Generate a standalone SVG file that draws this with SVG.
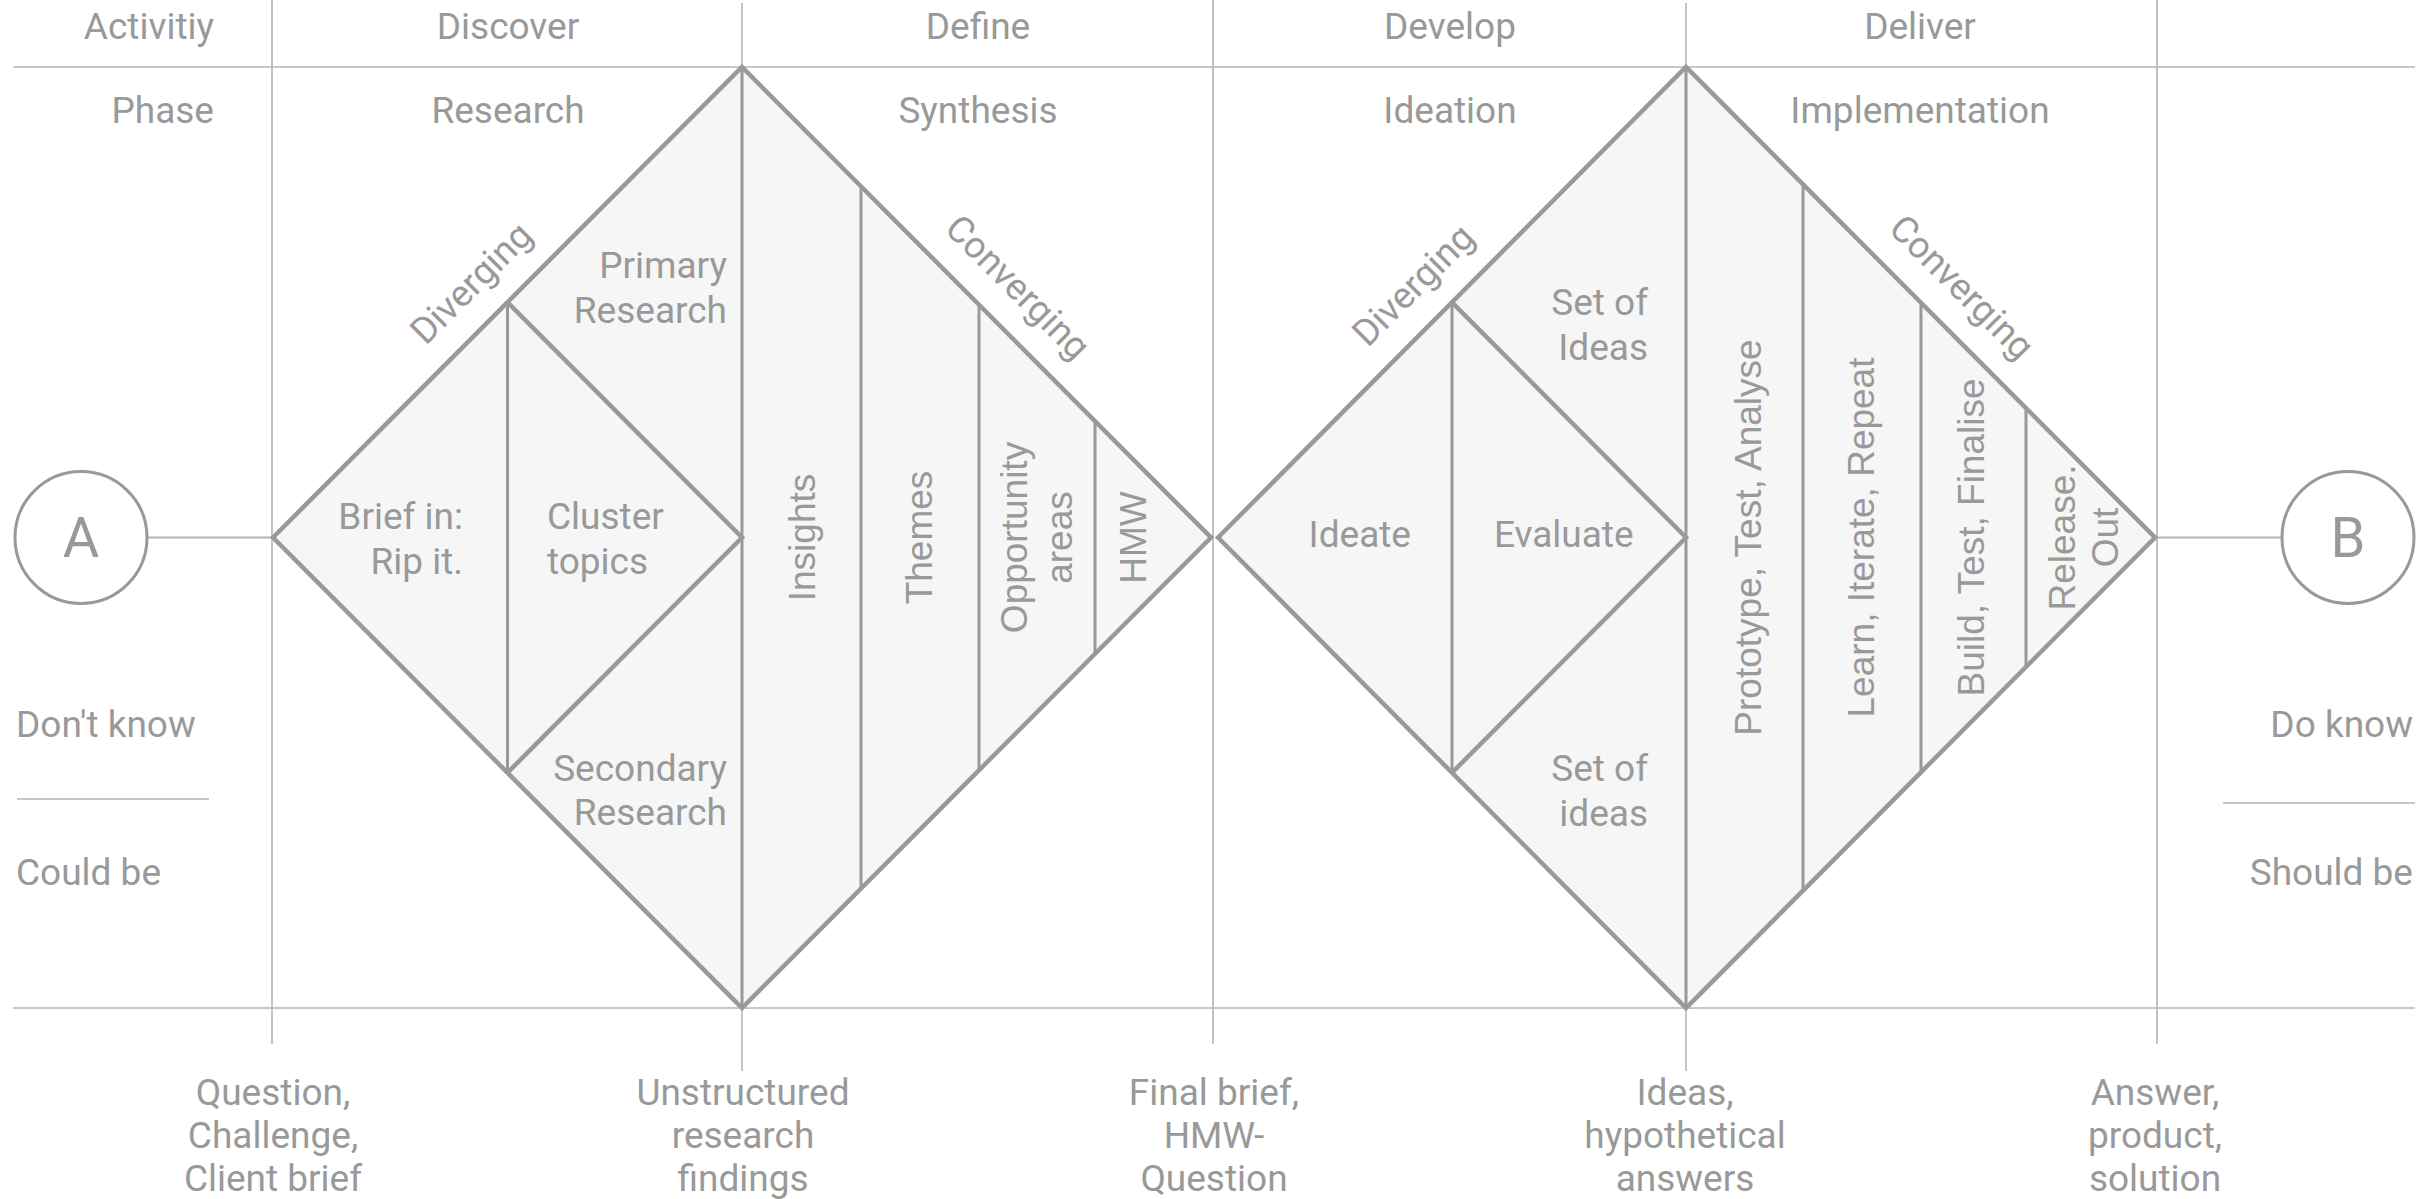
<svg xmlns="http://www.w3.org/2000/svg" width="2435" height="1199" viewBox="0 0 2435 1199">
<style>
.grid{stroke:#b4b4b4;stroke-width:1.6;fill:none}
.hline{stroke:#c8c8c8;stroke-width:2.2;fill:none}
.dia{fill:#f6f6f6;stroke:none}
.edge{fill:none;stroke:#999;stroke-width:4.5;stroke-linejoin:miter}
.div{stroke:#999;stroke-width:3;fill:none}
.conn{stroke:#b4b4b4;stroke-width:1.8;fill:none}
.circ{fill:#fff;stroke:#999;stroke-width:3}
.t{font-family:Roboto,"Liberation Sans",sans-serif;font-size:37px;fill:#999}
.c{text-anchor:middle}
.e{text-anchor:end}
.v{font-family:"Liberation Sans",Arial,sans-serif;font-size:37px;fill:#999;text-anchor:middle}
.big{font-family:Roboto,"Liberation Sans",sans-serif;font-size:56px;fill:#999;text-anchor:middle}
</style>
<rect width="2435" height="1199" fill="#fff"/>
<g id="grid">
<line class="hline" x1="13" y1="67" x2="2415" y2="67"/>
<line class="hline" x1="13" y1="1008" x2="2415" y2="1008"/>
<line class="grid" x1="272" y1="0" x2="272" y2="1044"/>
<line class="grid" x1="742" y1="3" x2="742" y2="1071"/>
<line class="grid" x1="1213" y1="0" x2="1213" y2="1044"/>
<line class="grid" x1="1686" y1="3" x2="1686" y2="1071"/>
<line class="grid" x1="2157" y1="0" x2="2157" y2="1044"/>
<line class="grid" x1="17" y1="799" x2="209" y2="799"/>
<line class="grid" x1="2223" y1="803" x2="2415" y2="803"/>
</g>
<g id="header">
<text class="t e" x="214" y="39">Activitiy</text>
<text class="t c" x="508" y="39">Discover</text>
<text class="t c" x="978" y="39">Define</text>
<text class="t c" x="1450" y="39">Develop</text>
<text class="t c" x="1920" y="39">Deliver</text>
<text class="t e" x="214" y="123">Phase</text>
<text class="t c" x="508" y="123">Research</text>
<text class="t c" x="978" y="123">Synthesis</text>
<text class="t c" x="1450" y="123">Ideation</text>
<text class="t c" x="1920" y="123">Implementation</text>
</g>
<g id="side-labels">
<text class="t" x="16" y="737">Don't know</text>
<text class="t" x="16" y="885">Could be</text>
<text class="t e" x="2413" y="737">Do know</text>
<text class="t e" x="2413" y="885">Should be</text>
</g>
<g id="connectors">
<line class="conn" x1="148" y1="537.5" x2="273" y2="537.5"/>
<line class="conn" x1="2155" y1="537.5" x2="2282" y2="537.5"/>
</g>
<g id="node-a">
<circle class="circ" cx="81" cy="537.5" r="66"/>
<text class="big" x="81" y="557">A</text>
</g>
<g id="node-b">
<circle class="circ" cx="2348" cy="537.5" r="66"/>
<text class="big" x="2348" y="557">B</text>
</g>
<g id="diamond-1">
<path class="dia" d="M273,537.5 L742,67 L1211,537.5 L742,1008 Z"/>
<path class="div" d="M507.5,302.3 V772.7 M742,67 V1008 M861,186.4 V888.6 M979,304.8 V770.2 M1095,421.1 V653.9"/>
<path class="edge" d="M273,537.5 L742,67 L1211,537.5 L742,1008 Z M507.5,302.3 L742,537.5 L507.5,772.7"/>
<text class="t" transform="translate(480,292) rotate(-45)" text-anchor="middle">Diverging</text>
<text class="t" transform="translate(1009,296) rotate(45)" text-anchor="middle">Converging</text>
<text class="t e" x="727" y="278">Primary</text>
<text class="t e" x="727" y="323">Research</text>
<text class="t e" x="463" y="529">Brief in:</text>
<text class="t e" x="463" y="574">Rip it.</text>
<text class="t" x="547" y="529">Cluster</text>
<text class="t" x="547" y="574">topics</text>
<text class="t e" x="727" y="781">Secondary</text>
<text class="t e" x="727" y="825">Research</text>
<text class="v" transform="translate(815,537.5) rotate(-90)">Insights</text>
<text class="v" transform="translate(932,537.5) rotate(-90)">Themes</text>
<text class="v" transform="translate(1027,537.5) rotate(-90)">Opportunity</text>
<text class="v" transform="translate(1072,537.5) rotate(-90)">areas</text>
<text class="v" transform="translate(1146,537.5) rotate(-90)">HMW</text>
</g>
<g id="diamond-2">
<path class="dia" d="M1218,537.5 L1686,67 L2155,537.5 L1686,1008 Z"/>
<path class="div" d="M1452,302.3 V772.7 M1686,67 V1008 M1803,184.4 V890.6 M1921,302.8 V772.2 M2026,408.1 V666.9"/>
<path class="edge" d="M1218,537.5 L1686,67 L2155,537.5 L1686,1008 Z M1452,302.3 L1686,537.5 L1452,772.7"/>
<text class="t" transform="translate(1422,294) rotate(-45)" text-anchor="middle">Diverging</text>
<text class="t" transform="translate(1953,296) rotate(45)" text-anchor="middle">Converging</text>
<text class="t e" x="1648" y="315">Set of</text>
<text class="t e" x="1648" y="360">Ideas</text>
<text class="t e" x="1411" y="547">Ideate</text>
<text class="t" x="1494" y="547">Evaluate</text>
<text class="t e" x="1648" y="781">Set of</text>
<text class="t e" x="1648" y="826">ideas</text>
<text class="v" transform="translate(1761,537.5) rotate(-90)">Prototype, Test, Analyse</text>
<text class="v" transform="translate(1874,537.5) rotate(-90)">Learn, Iterate, Repeat</text>
<text class="v" transform="translate(1984,537.5) rotate(-90)">Build, Test, Finalise</text>
<text class="v" transform="translate(2075,537.5) rotate(-90)">Release.</text>
<text class="v" transform="translate(2118,537.5) rotate(-90)">Out</text>
</g>
<g id="outputs">
<text class="t c" x="273" y="1105">Question,</text>
<text class="t c" x="273" y="1148">Challenge,</text>
<text class="t c" x="273" y="1191">Client brief</text>
<text class="t c" x="743" y="1105">Unstructured</text>
<text class="t c" x="743" y="1148">research</text>
<text class="t c" x="743" y="1191">findings</text>
<text class="t c" x="1214" y="1105">Final brief,</text>
<text class="t c" x="1214" y="1148">HMW-</text>
<text class="t c" x="1214" y="1191">Question</text>
<text class="t c" x="1685" y="1105">Ideas,</text>
<text class="t c" x="1685" y="1148">hypothetical</text>
<text class="t c" x="1685" y="1191">answers</text>
<text class="t c" x="2155" y="1105">Answer,</text>
<text class="t c" x="2155" y="1148">product,</text>
<text class="t c" x="2155" y="1191">solution</text>
</g>
</svg>
